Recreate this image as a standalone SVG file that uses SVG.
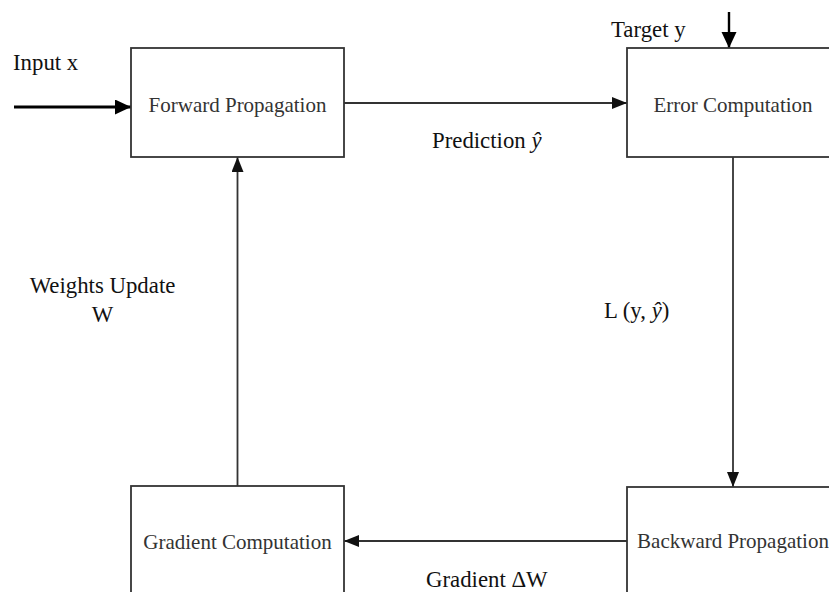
<svg xmlns="http://www.w3.org/2000/svg" width="829" height="592" viewBox="0 0 829 592">
<style>
text{font-family:"Liberation Serif","Times New Roman",serif;}
.box rect{fill:#fff;stroke:#333;stroke-width:1.8;}
.box text{font-size:21px;fill:#333;text-anchor:middle;}
.lbl{font-size:22.8px;fill:#111;}
.conn line{stroke:#333;stroke-width:1.8;fill:none;}
.conn line.thick{stroke:#000;stroke-width:3;}
.conn line.mid{stroke:#000;stroke-width:2.4;}
</style>
<defs>
<marker id="ah" markerUnits="userSpaceOnUse" markerWidth="16" markerHeight="14" refX="15" refY="6" orient="auto">
<path d="M0,0 L15,6 L0,12 z" fill="#111"/>
</marker>
<marker id="ahb" markerUnits="userSpaceOnUse" markerWidth="17" markerHeight="16" refX="16" refY="7.5" orient="auto">
<path d="M0,0 L16,7.5 L0,15 z" fill="#000"/>
</marker>
</defs>
<g id="connectors" class="conn">
<line class="thick" x1="14" y1="107" x2="131" y2="107" marker-end="url(#ahb)"/>
<line class="mid" x1="729" y1="12" x2="729" y2="48" marker-end="url(#ahb)"/>
<line x1="344" y1="103" x2="627" y2="103" marker-end="url(#ah)"/>
<line x1="733" y1="157" x2="733" y2="487" marker-end="url(#ah)"/>
<line x1="627" y1="541" x2="344" y2="541" marker-end="url(#ah)"/>
<line x1="237.5" y1="486" x2="237.5" y2="157" marker-end="url(#ah)"/>
</g>
<g id="forward" class="box">
<rect x="131" y="48" width="213" height="109"/>
<text x="237.5" y="112">Forward Propagation</text>
</g>
<g id="error" class="box">
<rect x="627" y="48" width="213" height="109"/>
<text x="733" y="112">Error Computation</text>
</g>
<g id="backward" class="box">
<rect x="627" y="487" width="213" height="120"/>
<text x="733" y="548">Backward Propagation</text>
</g>
<g id="gradient" class="box">
<rect x="131" y="486" width="213" height="120"/>
<text x="237.5" y="549">Gradient Computation</text>
</g>
<g id="labels">
<text class="lbl" x="13" y="70">Input x</text>
<text class="lbl" x="611" y="37">Target y</text>
<text class="lbl" x="432" y="148">Prediction <tspan font-style="italic">ŷ</tspan></text>
<text class="lbl" x="604" y="318">L (y, <tspan font-style="italic">ŷ</tspan>)</text>
<text class="lbl" x="102.5" y="293" text-anchor="middle">Weights Update</text>
<text class="lbl" x="102.5" y="322" text-anchor="middle">W</text>
<text class="lbl" x="426" y="587">Gradient ΔW</text>
</g>
</svg>
